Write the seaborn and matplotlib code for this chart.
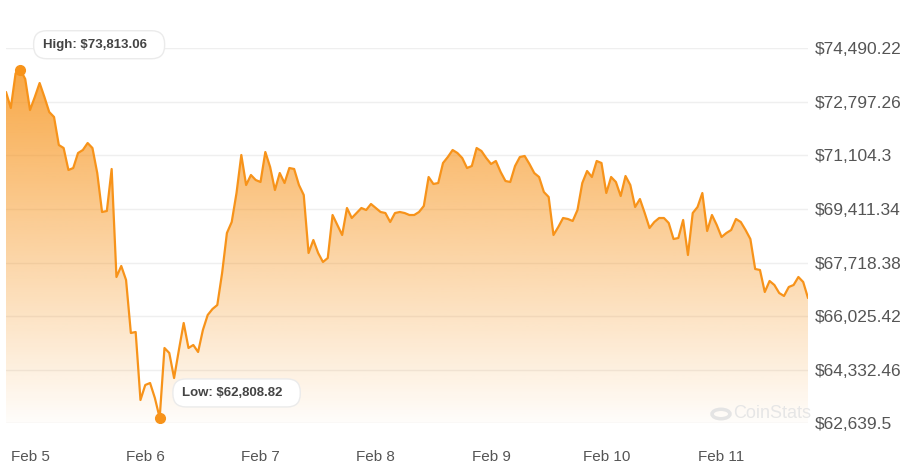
import numpy as np
import pandas as pd
import matplotlib
matplotlib.use("Agg")
import matplotlib.pyplot as plt
import matplotlib.dates as mdates
from matplotlib.colors import to_rgb
from matplotlib.patches import PathPatch, Circle, FancyBboxPatch
from matplotlib.transforms import IdentityTransform
import seaborn as sns

# hourly BTC price
start_time = "2026-02-04 19:00"
prices = [
    73109, 72603, 73700, 73813.06, 73520, 72540, 72951, 73393, 72951,
    72477, 72319, 71434, 71339, 70644, 70707, 71181, 71276, 71497, 71339,
    70549, 69317, 69349, 70676, 67263, 67611, 67168, 65493, 65525, 63376,
    63850, 63913, 63439, 62808.82, 65019, 64861, 64071, 64956, 65809, 65019,
    65114, 64893, 65588, 66062, 66252, 66378, 67389, 68653, 69001, 69917,
    71118, 70170, 70486, 70328, 70265, 71213, 70739, 70012, 70549, 70233,
    70707, 70676, 70170, 69854, 68021, 68432, 68021, 67737, 67863, 69222,
    68906, 68590, 69443, 69127, 69285, 69443, 69380, 69570, 69443, 69317,
    69285, 69001, 69285, 69317, 69285, 69222, 69222, 69317, 69507, 70423,
    70202, 70233, 70865, 71055, 71276, 71181, 71023, 70707, 70771, 71339,
    71245, 71023, 70834, 70929, 70581, 70297, 70265, 70771, 71055, 71087,
    70834, 70549, 70423, 69949, 69791, 68590, 68843, 69127, 69096, 69033,
    69380, 70233, 70612, 70423, 70929, 70865, 69917, 70423, 70265, 69822,
    70454, 70170, 69475, 69727, 69285, 68811, 69001, 69127, 69127, 68969,
    68463, 68495, 69064, 67958, 69285, 69475, 69917, 68717, 69222, 68906,
    68527, 68653, 68748, 69096, 69001, 68748, 68463, 67516, 67484, 66789,
    67137, 67010, 66757, 66663, 66947, 67010, 67263, 67105, 66599,
]
y_ticks = [62639.5, 64332.46, 66025.42, 67718.38, 69411.34, 71104.3, 72797.26, 74490.22]
x_ticks = ["2026-02-05", "2026-02-06", "2026-02-07", "2026-02-08",
           "2026-02-09", "2026-02-10", "2026-02-11"]

orange = "#f7931a"
text_gray = "#555555"

df = pd.DataFrame({
    "time": pd.date_range(start_time, periods=len(prices), freq="h"),
    "price": prices,
})

sns.set_theme(style="white")
plt.rcParams["font.family"] = ["Liberation Sans", "DejaVu Sans"]

fig = plt.figure(figsize=(9.07, 4.76), dpi=100)
ax = fig.add_axes([6 / 907, 1 - 423.3 / 476, 802 / 907, 375 / 476])

ylo, yhi = y_ticks[0], y_ticks[-1]
x0 = mdates.date2num(df.time.iloc[0])
x1 = mdates.date2num(df.time.iloc[-1])

# gradient fill under the line
poly = ax.fill_between(df.time, df.price, ylo, color="none", linewidth=0)
clip = PathPatch(poly.get_paths()[0], transform=ax.transData,
                 facecolor="none", edgecolor="none")
ax.add_patch(clip)
grad = np.zeros((256, 1, 4))
grad[:, 0, :3] = to_rgb(orange)
grad[:, 0, 3] = np.linspace(0.85, 0.02, 256)
img = ax.imshow(grad, aspect="auto", extent=[x0, x1, ylo, yhi],
                origin="upper", zorder=1)
img.set_clip_path(clip)

sns.lineplot(data=df, x="time", y="price", ax=ax, color=orange,
             linewidth=1.6, zorder=3)

ax.set_xlim(x0, x1)
ax.set_ylim(ylo, yhi)

# grid + axes styling
for v in y_ticks:
    ax.axhline(v, color="#efefef", linewidth=1, zorder=0)
for s in ax.spines.values():
    s.set_visible(False)

ax.yaxis.tick_right()
ax.set_yticks(y_ticks)


def money(v):
    s = f"{v:,.2f}".rstrip("0").rstrip(".")
    return "$" + s


ax.set_yticklabels([money(v) for v in y_ticks])
ax.set_xticks([mdates.date2num(pd.Timestamp(t)) for t in x_ticks])
ax.xaxis.set_major_formatter(mdates.DateFormatter("%b %-d"))
ax.tick_params(axis="y", length=0, pad=5, labelsize=12.5, labelcolor=text_gray)
ax.tick_params(axis="x", length=0, pad=19, labelsize=11, labelcolor=text_gray)
ax.set_xlabel("")
ax.set_ylabel("")

# high / low markers and labels
hi = df.loc[df.price.idxmax()]
lo = df.loc[df.price.idxmin()]
labels = []
for row, label in [(hi, "High"), (lo, "Low")]:
    ax.plot(row.time, row.price, "o", color=orange, markersize=7, zorder=4)
    t = ax.annotate(f"{label}: {money(row.price)}", xy=(row.time, row.price),
                    xytext=(16, 18), textcoords="offset points", ha="left",
                    va="center", fontsize=9.5, fontweight="bold", color="#444444",
                    zorder=6)
    labels.append(t)

# rounded label boxes, wider on the right like the original
fig.canvas.draw()
for t in labels:
    bb = t.get_window_extent()
    cy = (bb.y0 + bb.y1) / 2
    patch = FancyBboxPatch((bb.x0 - 9, cy - 14), bb.width + 27, 28,
                           boxstyle="round,pad=0,rounding_size=13",
                           facecolor="white", edgecolor="#ebebeb", linewidth=1,
                           transform=IdentityTransform(), zorder=5)
    ax.add_artist(patch)
    patch.set_clip_on(False)

# watermark
ax.add_patch(Circle((721 / 907, 1 - 414 / 476), 9 / 907, transform=fig.transFigure,
                    facecolor="none", edgecolor="#e4e4e4", linewidth=2.5, zorder=2))
fig.text(733 / 907, 1 - 414 / 476, "CoinStats", fontsize=13, color="#e6e6e6",
         ha="left", va="center", zorder=2)

fig.savefig("out.png", dpi=100)
